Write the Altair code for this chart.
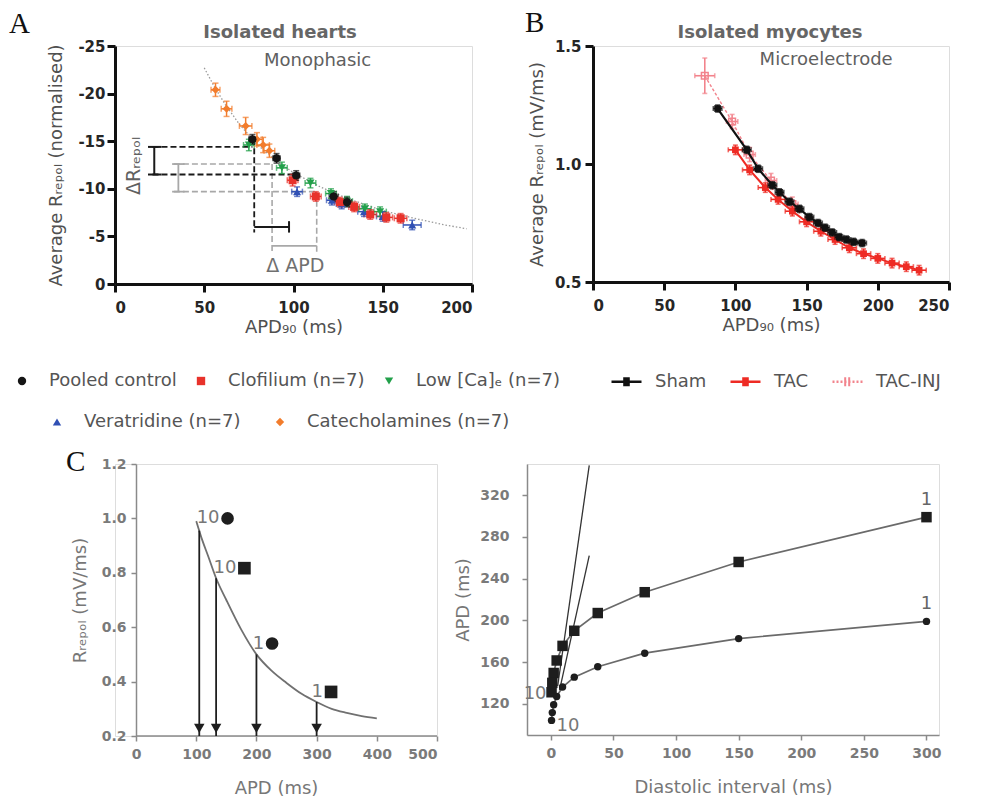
import altair as alt
import pandas as pd

SANS = "DejaVu Sans"
SERIF = "Liberation Serif"

# ---------------- Panel A: isolated hearts ----------------
A_groups = ["Pooled control", "Clofilium (n=7)", "Low [Ca]ₑ (n=7)", "Veratridine (n=7)", "Catecholamines (n=7)"]
A_colors = ["#151515", "#e8322b", "#22a04a", "#3050b4", "#f27c2c"]
A_shapes = ["circle", "square", "triangle-down", "triangle-up", "diamond"]

cat_apd = [56.3, 62.5, 73.2, 79.5, 83.0, 86.5]
cat_r = [-20.4, -18.4, -16.6, -15.2, -14.6, -14.0]
cat_xe = [2.5, 3.0, 3.5, 3.0, 3.5, 3.0]
cat_ye = [0.7, 0.8, 0.9, 0.7, 0.8, 0.7]

ver_apd = [102.0, 121.5, 127.0, 139.5, 150.0, 166.5]
ver_r = [-9.7, -8.8, -8.4, -7.6, -7.1, -6.2]
ver_xe = [3.0, 3.0, 3.0, 3.5, 3.5, 5.0]
ver_ye = [0.5, 0.5, 0.5, 0.5, 0.5, 0.5]

clo_apd = [99.5, 112.5, 126.0, 134.0, 143.0, 152.0, 160.0]
clo_r = [-10.9, -9.2, -8.6, -8.1, -7.3, -7.0, -6.9]
clo_xe = [3.0, 3.0, 3.0, 3.0, 3.5, 3.5, 3.5]
clo_ye = [0.6, 0.5, 0.5, 0.5, 0.5, 0.5, 0.5]

low_apd = [75.0, 93.5, 109.5, 121.0, 130.0, 140.0, 148.5]
low_r = [-14.6, -12.2, -10.6, -9.5, -8.7, -7.9, -7.6]
low_xe = [3.0, 3.0, 3.0, 3.0, 3.0, 3.5, 3.5]
low_ye = [0.6, 0.6, 0.5, 0.5, 0.5, 0.5, 0.5]

ctl_apd = [77.0, 90.5, 101.5, 122.5, 130.0]
ctl_r = [-15.2, -13.2, -11.4, -9.2, -8.6]
ctl_xe = [2.0, 2.0, 2.0, 2.5, 2.5]
ctl_ye = [0.5, 0.5, 0.5, 0.5, 0.5]

fit_apd = [50, 56, 62, 70, 80, 90, 100, 115, 130, 150, 170, 185, 197]
fit_r = [-22.7, -20.6, -18.8, -16.7, -14.6, -13.0, -11.7, -10.2, -9.0, -7.7, -6.8, -6.2, -5.8]

# annotation segments (x, y, x2, y2) in data units
blk_dash = [(21, -14.4, 77, -14.4), (21, -11.5, 101, -11.5), (78, -15.2, 78, -5.4)]
blk_solid = [(22, -14.4, 22, -11.5), (18.5, -14.4, 26, -14.4), (18.5, -11.5, 26, -11.5),
             (78, -6.0, 97.5, -6.0), (97.5, -6.6, 97.5, -5.4)]
gry_dash = [(33, -12.6, 88, -12.6), (33, -9.7, 113, -9.7), (88, -12.6, 88, -3.3), (113, -9.7, 113, -3.3)]
gry_solid = [(35.5, -12.6, 35.5, -9.7), (32, -12.6, 39, -12.6), (32, -9.7, 39, -9.7), (88, -4.0, 113, -4.0)]

# ---------------- Panel B: isolated myocytes ----------------
B_series = ["Sham", "TAC", "TAC-INJ"]
B_colors = ["#111111", "#ee2b24", "#f2838c"]

sham_apd = [87.5, 108, 116, 126, 131, 138, 145, 152, 158, 163, 168, 173, 178, 183, 189]
sham_r = [1.235, 1.06, 0.98, 0.91, 0.88, 0.84, 0.81, 0.775, 0.75, 0.73, 0.71, 0.69, 0.68, 0.67, 0.665]
tac_apd = [100, 110, 121, 130, 140, 150, 160, 170, 180, 190, 200, 210, 220, 229]
tac_r = [1.06, 0.975, 0.9, 0.85, 0.80, 0.755, 0.715, 0.68, 0.645, 0.62, 0.60, 0.58, 0.565, 0.55]
inj_apd = [78.5, 97.7, 110, 125, 140]
inj_r = [1.374, 1.18, 1.04, 0.93, 0.83]

# ---------------- Panel C (left) ----------------
curve_apd = [100, 110, 120, 133, 150, 175, 200, 225, 250, 275, 300, 325, 350, 375, 400]
curve_r = [0.99, 0.92, 0.86, 0.78, 0.70, 0.59, 0.50, 0.44, 0.395, 0.355, 0.325, 0.30, 0.285, 0.273, 0.265]
arrow_apd = [105, 133, 200, 300]
arrow_top = [0.955, 0.78, 0.50, 0.325]
mk_apd = [152, 180, 226, 324]
mk_r = [1.0, 0.817, 0.54, 0.362]
mk_shape = ["circle", "square", "circle", "square"]
mk_label = ["10", "10", "1", "1"]

# ---------------- Panel C (right) ----------------
di = [300, 150, 75, 37.5, 18.75, 9.4, 4.7, 2.3, 1.2, 0.6]
sq_apd = [299, 256, 227, 207, 190, 175.5, 161.5, 149.5, 140, 131]
ci_apd = [199, 182.5, 168.5, 155.5, 145.5, 136, 127, 119, 111.5, 104]
steep1 = [(5.5, 137), (30.7, 348.6)]
steep2 = [(7.0, 133), (30.7, 262)]


# ---------------- helpers ----------------
def pts_frame(key, names, xs, ys, xes, yes):
    rows = []
    for name, xl, yl, xel, yel in zip(names, xs, ys, xes, yes):
        for a, b, c, d in zip(xl, yl, xel, yel):
            rows.append({key: name, "x": a, "y": b, "xlo": a - c, "xhi": a + c, "ylo": b - d, "yhi": b + d})
    return pd.DataFrame(rows)


def seg_frame(segs):
    return pd.DataFrame([{"x": a, "y": b, "x2": c, "y2": d} for a, b, c, d in segs])


def make_xy(xscale, yscale, xaxis, yaxis, xtitle, ytitle):
    def X(f):
        return alt.X(f"{f}:Q", scale=xscale, axis=xaxis, title=xtitle)

    def Y(f):
        return alt.Y(f"{f}:Q", scale=yscale, axis=yaxis, title=ytitle)
    return X, Y


def err_layers(df, X, Y, color, cap, w):
    base = alt.Chart(df)
    return [
        base.mark_rule(strokeWidth=w).encode(x=X("xlo"), x2=alt.X2("xhi"), y=Y("y"), color=color),
        base.mark_rule(strokeWidth=w).encode(x=X("x"), y=Y("ylo"), y2=alt.Y2("yhi"), color=color),
        base.mark_tick(orient="vertical", size=cap, thickness=w).encode(x=X("xlo"), y=Y("y"), color=color),
        base.mark_tick(orient="vertical", size=cap, thickness=w).encode(x=X("xhi"), y=Y("y"), color=color),
        base.mark_tick(orient="horizontal", size=cap, thickness=w).encode(x=X("x"), y=Y("ylo"), color=color),
        base.mark_tick(orient="horizontal", size=cap, thickness=w).encode(x=X("x"), y=Y("yhi"), color=color),
    ]


def label_text(txt, px, py, font, size, weight, color, align="left"):
    return alt.Chart(pd.DataFrame({"t": [txt]})).mark_text(
        font=font, fontSize=size, fontWeight=weight, align=align, baseline="alphabetic", color=color
    ).encode(text="t:N", x=alt.value(px), y=alt.value(py))


def letter(ch, dx, dy):
    return label_text(ch, dx, dy, SERIF, 29, "normal", "#111")


axAB = dict(domainColor="#111", domainWidth=3, tickColor="#111", tickWidth=3, tickSize=8,
            labelFont=SANS, labelFontSize=15, labelFontWeight="bold", labelColor="#262626",
            titleFont=SANS, titleFontSize=18, titleFontWeight="normal", titleColor="#505050", grid=False)
axC = dict(domainColor="#8a8a8a", domainWidth=1.5, tickColor="#8a8a8a", tickWidth=1.5, tickSize=5,
           labelFont=SANS, labelFontSize=14, labelFontWeight="bold", labelColor="#7a7a7a",
           titleFont=SANS, titleFontSize=18, titleFontWeight="normal", titleColor="#777", grid=False)

# ---------------- Panel A chart ----------------
XA, YA = make_xy(
    alt.Scale(domain=[0, 200], nice=False, zero=False),
    alt.Scale(domain=[-25, 0], reverse=True, nice=False, zero=False),
    alt.Axis(values=[0, 50, 100, 150, 200], labelPadding=8, titlePadding=3, **axAB),
    alt.Axis(values=[-25, -20, -15, -10, -5, 0], labelPadding=2, titlePadding=12,
             labelExpr="datum.value == 0 ? '0' : '-' + abs(datum.value)", **axAB),
    "APD₉₀ (ms)", "Average Rᵣₑₚₒₗ (normalised)")

dfA = pts_frame("group",
                ["Catecholamines (n=7)", "Veratridine (n=7)", "Clofilium (n=7)", "Low [Ca]ₑ (n=7)", "Pooled control"],
                [cat_apd, ver_apd, clo_apd, low_apd, ctl_apd], [cat_r, ver_r, clo_r, low_r, ctl_r],
                [cat_xe, ver_xe, clo_xe, low_xe, ctl_xe], [cat_ye, ver_ye, clo_ye, low_ye, ctl_ye])
colA = alt.Color("group:N", scale=alt.Scale(domain=A_groups, range=A_colors), legend=None)
shpA = alt.Shape("group:N", scale=alt.Scale(domain=A_groups, range=A_shapes), legend=None)

fitA = alt.Chart(pd.DataFrame({"x": fit_apd, "y": fit_r})).mark_line(
    color="#9a9a9a", strokeWidth=1.3, strokeDash=[1.5, 2]).encode(x=XA("x"), y=YA("y"))


def seg_layer(segs, X, Y, color, dash, w):
    kw = dict(color=color, strokeWidth=w)
    if dash:
        kw["strokeDash"] = dash
    return alt.Chart(seg_frame(segs)).mark_rule(**kw).encode(
        x=X("x"), y=Y("y"), x2=alt.X2("x2"), y2=alt.Y2("y2"))


annA = [seg_layer(gry_dash, XA, YA, "#a8a8a8", [6, 3], 1.6),
        seg_layer(gry_solid, XA, YA, "#a8a8a8", None, 1.8),
        seg_layer(blk_dash, XA, YA, "#1a1a1a", [6, 3], 1.8),
        seg_layer(blk_solid, XA, YA, "#1a1a1a", None, 2.0)]

ptsA = alt.Chart(dfA).mark_point(filled=True, size=65, opacity=1).encode(
    x=XA("x"), y=YA("y"), color=colA, shape=shpA)

txtA = [
    alt.Chart(pd.DataFrame({"x": [83.5], "y": [-23.4], "t": ["Monophasic"]})).mark_text(
        font=SANS, fontSize=18, color="#606060", align="left", baseline="middle").encode(
        x=XA("x"), y=YA("y"), text="t:N"),
    alt.Chart(pd.DataFrame({"x": [101], "y": [-1.9], "t": ["Δ APD"]})).mark_text(
        font=SANS, fontSize=19, color="#707070", align="center", baseline="middle").encode(
        x=XA("x"), y=YA("y"), text="t:N"),
    alt.Chart(pd.DataFrame({"x": [10.5], "y": [-12.4], "t": ["ΔRᵣₑₚₒₗ"]})).mark_text(
        font=SANS, fontSize=19, color="#606060", align="center", baseline="middle", angle=270).encode(
        x=XA("x"), y=YA("y"), text="t:N"),
]

chartA = alt.layer(fitA, *annA, *err_layers(dfA, XA, YA, colA, 6, 1.5), ptsA, *txtA,
                   label_text("Isolated hearts", 165, -8, SANS, 18, "bold", "#666", "center"),
                   letter("A", -106, -13.5)).properties(width=357, height=238)

# ---------------- Panel B chart ----------------
XB, YB = make_xy(
    alt.Scale(domain=[0, 250], nice=False, zero=False),
    alt.Scale(domain=[0.5, 1.5], nice=False, zero=False),
    alt.Axis(values=[0, 50, 100, 150, 200, 250], labelPadding=8, titlePadding=3, **axAB),
    alt.Axis(values=[0.5, 1.0, 1.5], format=".1f", labelPadding=4, titlePadding=8, **axAB),
    "APD₉₀ (ms)", "Average Rᵣₑₚₒₗ (mV/ms)")

colB = alt.Color("series:N", scale=alt.Scale(domain=B_series, range=B_colors), legend=None)
dfB = pts_frame("series", ["TAC-INJ", "TAC", "Sham"], [inj_apd, tac_apd, sham_apd], [inj_r, tac_r, sham_r],
                [[7, 4, 4, 4, 4], [5] * len(tac_apd), [3] * len(sham_apd)],
                [[0.075, 0.03, 0.03, 0.03, 0.03], [0.02] * len(tac_apd), [0.015] * len(sham_apd)])

layersB = []
for s, dash, w, filled in [("TAC-INJ", [3, 2], 1.4, False), ("TAC", None, 2.0, True), ("Sham", None, 2.2, True)]:
    sub = dfB[dfB["series"] == s]
    layersB += err_layers(sub, XB, YB, colB, 5, 1.6)
    lkw = dict(strokeWidth=w)
    if dash:
        lkw["strokeDash"] = dash
    layersB.append(alt.Chart(sub).mark_line(**lkw).encode(x=XB("x"), y=YB("y"), color=colB))
    layersB.append(alt.Chart(sub).mark_point(shape="square", filled=filled, size=45, opacity=1,
                                             strokeWidth=1.5).encode(x=XB("x"), y=YB("y"), color=colB))

txtB = alt.Chart(pd.DataFrame({"x": [117], "y": [1.44], "t": ["Microelectrode"]})).mark_text(
    font=SANS, fontSize=18, color="#606060", align="left", baseline="middle").encode(
    x=XB("x"), y=YB("y"), text="t:N")

chartB = alt.layer(*layersB, txtB,
                   label_text("Isolated myocytes", 177, -8, SANS, 18, "bold", "#666", "center"),
                   letter("B", -68, -14)).properties(width=356, height=236)

# ---------------- Legend row (origin shared with panel A's plot left edge) ----------------
def legend_obj(lx, ly, **kw):
    base = dict(title=None, orient="none", legendX=lx, legendY=ly, direction="horizontal",
                labelFont=SANS, labelFontSize=18, labelColor="#555", labelLimit=400, padding=0)
    base.update(kw)
    return alt.Legend(**base)


def legend_points(groups, lx, ly, colpad):
    obj = legend_obj(lx, ly, symbolSize=70, symbolStrokeWidth=0, labelOffset=18, columnPadding=colpad)
    cols = [A_colors[A_groups.index(g)] for g in groups]
    shps = [A_shapes[A_groups.index(g)] for g in groups]
    return alt.Chart(pd.DataFrame({"group": groups})).transform_filter("false").mark_point(
        filled=True, opacity=1).encode(
        color=alt.Color("group:N", scale=alt.Scale(domain=groups, range=cols), legend=obj),
        shape=alt.Shape("group:N", scale=alt.Scale(domain=groups, range=shps), legend=obj))


legA1 = legend_points(A_groups[:3], -102, 19, 15)
legA2 = legend_points(A_groups[3:], -67, 60, 30)

legB_obj = legend_obj(495, 12,
                      symbolType="M-1,0H1M-0.22,-0.21H0.22M-0.22,-0.12H0.22M-0.22,-0.04H0.22"
                                 "M-0.22,0.04H0.22M-0.22,0.12H0.22M-0.22,0.21H0.22",
                      symbolSize=900, symbolStrokeWidth=2.5, labelOffset=12, columnPadding=18)
legB = alt.Chart(pd.DataFrame({"series": B_series})).transform_filter("false").mark_line().encode(
    color=alt.Color("series:N", scale=alt.Scale(domain=B_series, range=B_colors), legend=legB_obj),
    strokeDash=alt.StrokeDash("series:N", scale=alt.Scale(domain=B_series, range=[[1, 0], [1, 0], [2, 2]]),
                              legend=legB_obj))

legend_row = alt.layer(legA1, legA2, legB).resolve_scale(
    color="independent", shape="independent", strokeDash="independent").properties(width=1, height=1)

# ---------------- Panel C left ----------------
# x scale starts a little before 0 so that this panel's origin sits right of panel A's
XC, YC = make_xy(
    alt.Scale(domain=[-35, 500], nice=False, zero=False),
    alt.Scale(domain=[0.2, 1.2], nice=False, zero=False),
    alt.Axis(values=[0, 100, 200, 300, 400, 500], labelPadding=6, titlePadding=18, domain=False, **axC),
    alt.Axis(values=[0.2, 0.4, 0.6, 0.8, 1.0, 1.2], format=".1f", labelPadding=5, titlePadding=12,
             offset=-21, **axC),
    "APD (ms)", "Rᵣₑₚₒₗ (mV/ms)")

xaxis_line = alt.Chart(pd.DataFrame({"x": [0], "x2": [500], "y": [0.2]})).mark_rule(
    color="#8a8a8a", strokeWidth=1.5).encode(x=XC("x"), x2=alt.X2("x2"), y=YC("y"))
curveC = alt.Chart(pd.DataFrame({"x": curve_apd, "y": curve_r})).mark_line(
    color="#707070", strokeWidth=1.8, interpolate="monotone").encode(x=XC("x"), y=YC("y"))
dfArr = pd.DataFrame({"x": arrow_apd, "ytop": arrow_top, "ybot": [0.2] * len(arrow_apd),
                      "yhead": [0.228] * len(arrow_apd)})
arrRule = alt.Chart(dfArr).mark_rule(color="#1e1e1e", strokeWidth=1.8).encode(
    x=XC("x"), y=YC("ytop"), y2=alt.Y2("ybot"))
arrHead = alt.Chart(dfArr).mark_point(shape="triangle-down", filled=True, size=110, color="#1e1e1e",
                                      opacity=1).encode(x=XC("x"), y=YC("yhead"))
dfMk = pd.DataFrame({"x": mk_apd, "y": mk_r, "shape": mk_shape, "lab": mk_label})
mkC = alt.Chart(dfMk).mark_point(filled=True, size=160, color="#1e1e1e", opacity=1).encode(
    x=XC("x"), y=YC("y"),
    shape=alt.Shape("shape:N", scale=alt.Scale(domain=["circle", "square"], range=["circle", "square"]),
                    legend=None))
mkTxt = alt.Chart(dfMk).mark_text(font=SANS, fontSize=18, color="#777", align="right", baseline="middle",
                                  dx=-8).encode(x=XC("x"), y=YC("y"), text="lab:N")

chartC1 = alt.layer(xaxis_line, curveC, arrRule, arrHead, mkC, mkTxt, letter("C", -49, 7)).properties(
    width=322, height=272)

# ---------------- Panel C right ----------------
XD, YD = make_xy(
    alt.Scale(domain=[-19, 310], nice=False, zero=False),
    alt.Scale(domain=[90, 350], nice=False, zero=False),
    alt.Axis(values=[0, 50, 100, 150, 200, 250, 300], labelPadding=6, titlePadding=18, **axC),
    alt.Axis(values=[120, 160, 200, 240, 280, 320], labelPadding=13, titlePadding=7, **axC),
    "Diastolic interval (ms)", "APD (ms)")

dfSq = pd.DataFrame({"x": di, "y": sq_apd})
dfCi = pd.DataFrame({"x": di, "y": ci_apd})
steep = pd.DataFrame([{"x": a[0], "y": a[1], "x2": b[0], "y2": b[1]} for a, b in [steep1, steep2]])
steepL = alt.Chart(steep).mark_rule(color="#333", strokeWidth=1.3).encode(
    x=XD("x"), y=YD("y"), x2=alt.X2("x2"), y2=alt.Y2("y2"))
sqLine = alt.Chart(dfSq).mark_line(color="#6a6a6a", strokeWidth=1.7).encode(x=XD("x"), y=YD("y"))
ciLine = alt.Chart(dfCi).mark_line(color="#6a6a6a", strokeWidth=1.7).encode(x=XD("x"), y=YD("y"))
sqPts = alt.Chart(dfSq).mark_point(shape="square", filled=True, size=110, color="#1e1e1e", opacity=1).encode(
    x=XD("x"), y=YD("y"))
ciPts = alt.Chart(dfCi).mark_point(shape="circle", filled=True, size=55, color="#1e1e1e", opacity=1).encode(
    x=XD("x"), y=YD("y"))
lab_df = pd.DataFrame({"x": [di[0], di[0], di[-1], di[-1]], "y": [sq_apd[0], ci_apd[0], sq_apd[-1], ci_apd[-1]],
                       "t": ["1", "1", "10", "10"]})
labTop = alt.Chart(lab_df.iloc[:2]).mark_text(font=SANS, fontSize=18, color="#666", align="center",
                                              baseline="middle", dy=-17).encode(x=XD("x"), y=YD("y"), text="t:N")
labSq10 = alt.Chart(lab_df.iloc[2:3]).mark_text(font=SANS, fontSize=18, color="#777", align="right",
                                                baseline="middle", dx=-5, dy=2).encode(
    x=XD("x"), y=YD("y"), text="t:N")
labCi10 = alt.Chart(lab_df.iloc[3:4]).mark_text(font=SANS, fontSize=18, color="#777", align="left",
                                                baseline="middle", dx=5, dy=6).encode(
    x=XD("x"), y=YD("y"), text="t:N")

chartC2 = alt.layer(steepL, sqLine, ciLine, sqPts, ciPts, labTop, labSq10, labCi10).properties(
    width=412, height=271)

# ---------------- assemble ----------------
row1 = alt.hconcat(chartA, chartB, spacing=50).resolve_scale(
    color="independent", shape="independent", strokeDash="independent")
row2 = alt.hconcat(chartC1, chartC2, spacing=15).resolve_scale(shape="independent")

chart = alt.vconcat(row1, legend_row, row2, spacing=16).resolve_scale(
    color="independent", shape="independent", strokeDash="independent").properties(
    padding={"left": 0, "top": 0, "right": 0, "bottom": 0}, background="white"
).configure_view(strokeWidth=0).configure(font=SANS)

chart.save("out.html", embed_options={"renderer": "svg", "actions": False})
